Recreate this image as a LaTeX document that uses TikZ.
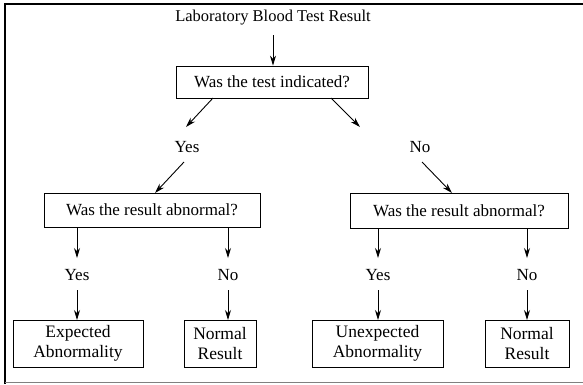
\documentclass[tikz,border=0pt]{standalone}
\usepackage{fontspec}
\setmainfont{Liberation Serif}
\usetikzlibrary{arrows.meta}
\begin{document}
\begin{tikzpicture}[x=1pt,y=-1pt,
  box/.style={draw,line width=0.8pt,inner sep=0pt,font=\fontsize{17}{18}\selectfont},
  lbl/.style={inner sep=1pt,font=\fontsize{17}{18}\selectfont},
  arr/.style={-{Stealth[length=10pt,width=6pt]},line width=0.9pt}]
\useasboundingbox (0,0) rectangle (583,384);
\draw[line width=2.5pt] (5,384) -- (5,4) -- (583,4);
\draw[line width=0.6pt,gray] (5,382) -- (583,382);
\node[lbl,font=\fontsize{16.5}{18}\selectfont] (title) at (273,18) {Laboratory Blood Test Result};
\node[box,minimum width=192pt,minimum height=32pt] (q1) at (272,82) {Was the test indicated?};
\node[lbl] (yes1) at (187,147) {Yes};
\node[lbl] (no1) at (420,147) {No};
\node[box,minimum width=216pt,minimum height=34pt] (q2) at (152,210) {Was the result abnormal?};
\node[box,minimum width=218pt,minimum height=35pt] (q3) at (459,210.5) {Was the result abnormal?};
\node[lbl] (y2) at (77,275) {Yes};
\node[lbl] (n2) at (228,275) {No};
\node[lbl] (y3) at (378,275) {Yes};
\node[lbl] (n3) at (527,275) {No};
\node[box,minimum width=130pt,minimum height=47pt,align=center,font=\fontsize{17.5}{20}\selectfont] (r1) at (78,343.5) {Expected\\Abnormality};
\node[box,minimum width=72pt,minimum height=47pt,align=center,font=\fontsize{17.5}{20}\selectfont] (r2) at (220,343.5) {Normal\\Result};
\node[box,minimum width=131pt,minimum height=47pt,align=center,font=\fontsize{17.5}{20}\selectfont] (r3) at (377.5,343.5) {Unexpected\\Abnormality};
\node[box,minimum width=84pt,minimum height=47pt,align=center,font=\fontsize{17.5}{20}\selectfont] (r4) at (527,343.5) {Normal\\Result};
\coordinate (t1) at (273,35);
\draw[arr] (t1) -- (q1.north -| t1);
\coordinate (a1) at (213,98);
\coordinate (a2) at (331,98);
\draw[arr] (a1) -- (186,127);
\draw[arr] (a2) -- (360,127);
\draw[arr] (184,162) -- (155,193);
\draw[arr] (422,162) -- (452,193);
\foreach \x/\n in {77/y2,228/n2}{
  \draw[arr] (\x,227) -- (\x,258);
  \draw[arr] (\x,290) -- (\x,320);
}
\foreach \x/\n in {378/y3,527/n3}{
  \draw[arr] (\x,228) -- (\x,258);
  \draw[arr] (\x,290) -- (\x,320);
}
\end{tikzpicture}
\end{document}
